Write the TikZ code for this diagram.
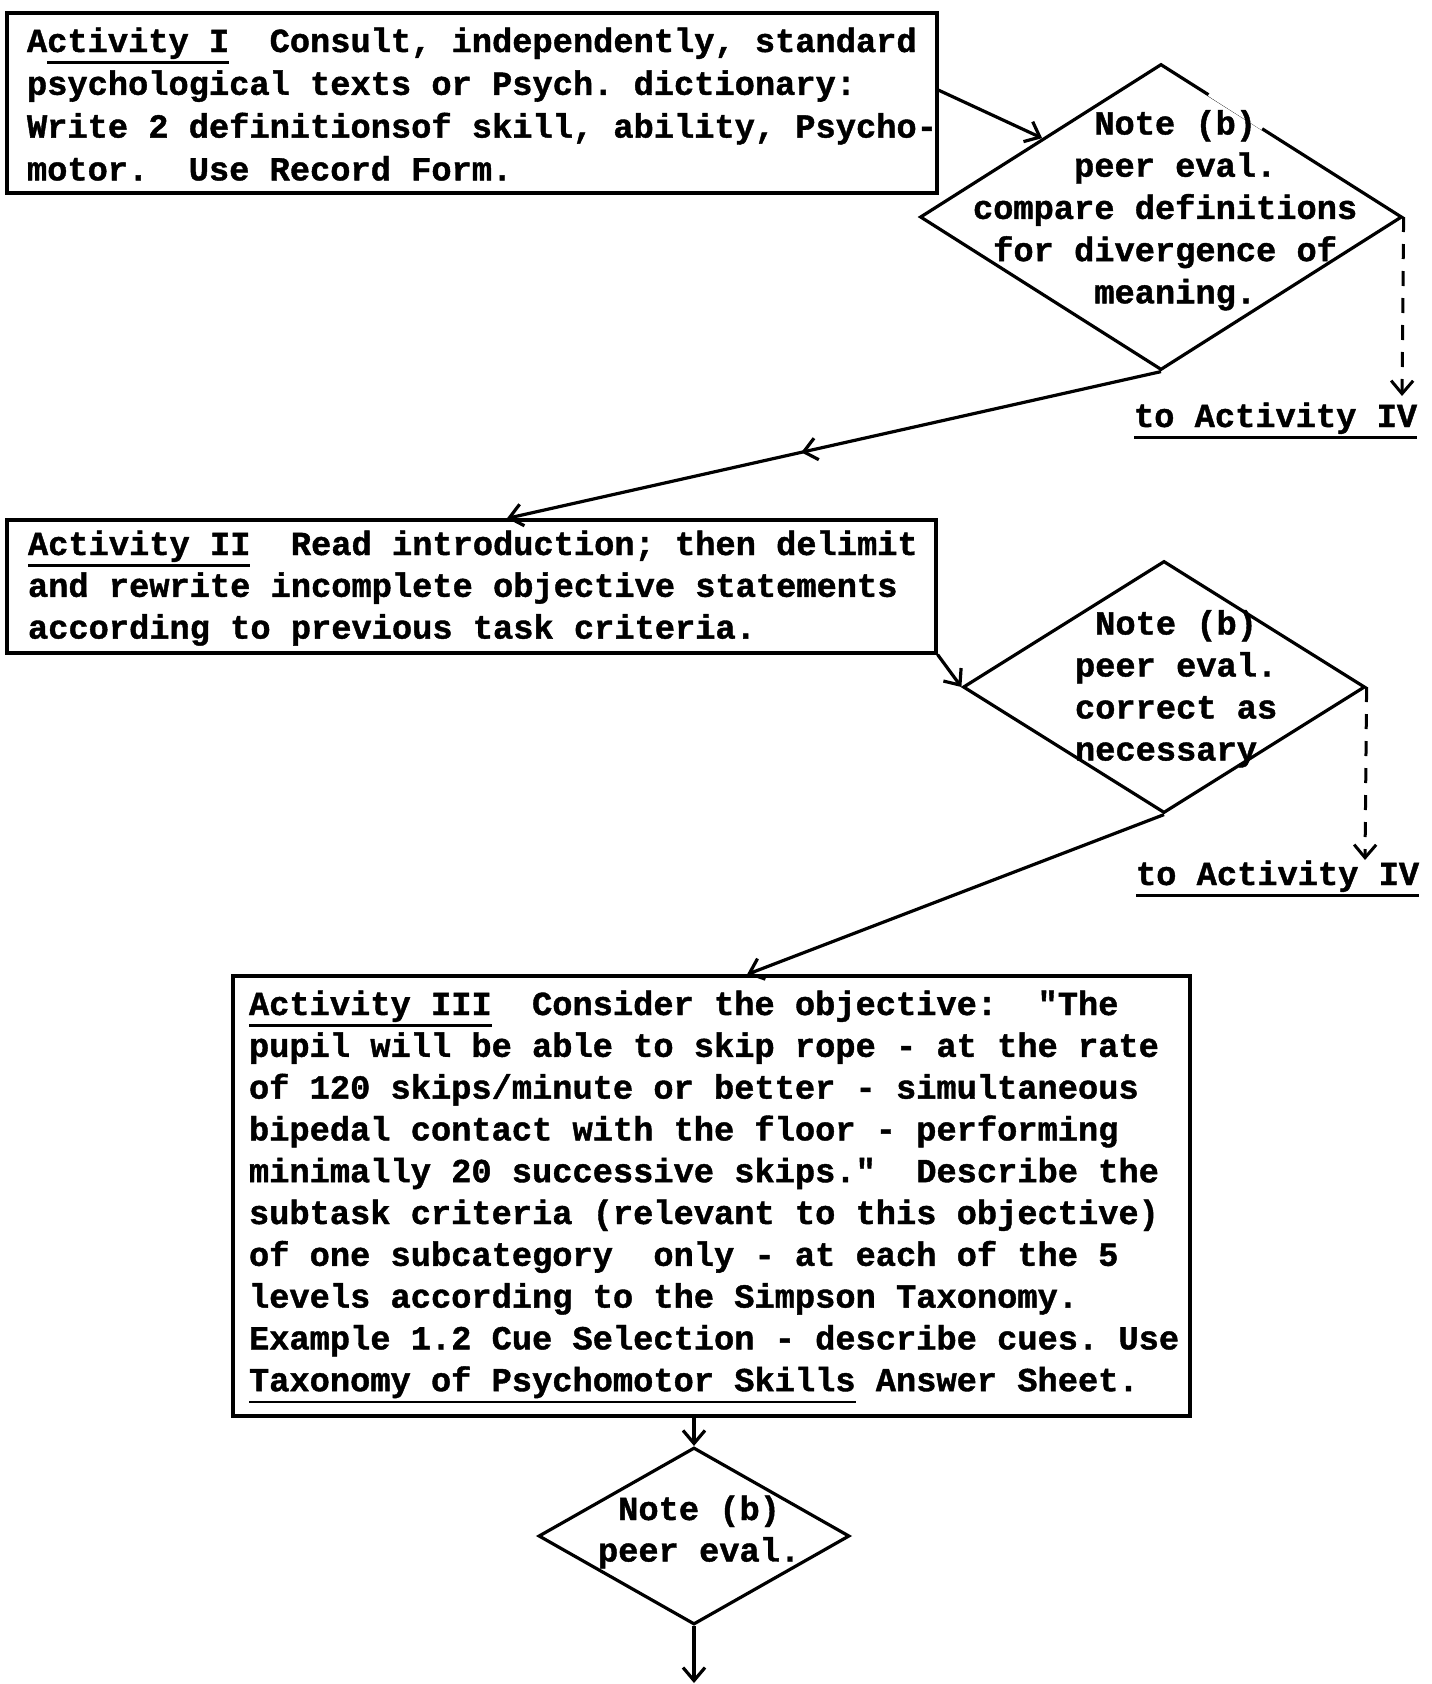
\documentclass[tikz,border=0pt]{standalone}
\usepackage{fontspec}
\setmainfont{Liberation Mono}[Ligatures=ResetAll, BoldFeatures={FakeBold=1.2}]
\usetikzlibrary{arrows.meta,decorations.markings,shapes.geometric,calc}
\newdimen\cw \cw=20.22pt
\newcommand\ind[1]{\hspace*{#1\cw}}
\newcommand\uln[1]{\setbox0=\hbox{#1}\rlap{\rule[-12pt]{\wd0}{2.6pt}}\box0\relax}
\newcommand\qq{\XeTeXglyph\XeTeXcharglyph"22\relax}
\newcommand\stt{\rule{0pt}{30pt}}
\tikzset{
  lw/.style={line width=3.2pt},
  box/.style={draw, lw, rectangle, inner sep=0pt},
  dia/.style={draw, lw, diamond, inner sep=0pt},
  txt/.style={anchor=north west, inner sep=0pt, outer sep=0pt, align=left,
    font=\fontsize{33.7pt}{#1}\selectfont\bfseries\frenchspacing},
  lbl/.style={anchor=base west, inner sep=0pt, outer sep=0pt,
    font=\fontsize{33.7pt}{40pt}\selectfont\bfseries\frenchspacing},
  arrtip/.style={-{Straight Barb[length=13pt,width=22pt]}},
  conn/.style={lw, arrtip},
  dconn/.style={line width=3pt, dash pattern=on 15pt off 12pt, arrtip},
  midarr/.style={postaction={decorate}, decoration={markings,
    mark=at position #1 with {\arrow{Straight Barb[length=13pt,width=22pt]}}}}
}
\begin{document}
\begin{tikzpicture}[x=1pt,y=-1pt]
\fill[white] (0,0) rectangle (1432,1684);
\useasboundingbox (0,0) rectangle (1432,1684);

% Activity I
\node[box, minimum width=930pt, minimum height=180pt] (b1) at (472,103) {};
\node[txt=42.8pt] (b1t) at (27,22) {\stt A\uln{ctivity I}~~Consult, independently, standard\\psychological texts or Psych. dictionary:\\Write 2 definitionsof skill, ability, Psycho-\\motor.~~Use Record Form.};

% Diamond 1
\node[dia, minimum width=482pt, minimum height=306pt] (d1) at (1161,217) {};
\draw[white, line width=6pt] ($(d1.north)!0.2!(d1.east)$) -- ($(d1.north)!0.42!(d1.east)$);
\node[txt=42.2pt] (d1t) at (973,104.5) {\stt\ind{6}Note (b)\\\ind{5}peer eval.\\compare definitions\\\ind{1}for divergence of\\\ind{6}meaning.};
\node[lbl] (t1) at (1134,427) {\uln{to Activity IV}};
\coordinate (e1) at (1402,396);

% Activity II
\node[box, minimum width=929pt, minimum height=133pt] (b2) at (471.5,586.5) {};
\node[txt=41.8pt] (b2t) at (28,525) {\stt\uln{Activity II}~~Read introduction; then delimit\\and rewrite incomplete objective statements\\according to previous task criteria.};

% Diamond 2
\node[dia, minimum width=402pt, minimum height=252pt] (d2) at (1164,687) {};
\node[txt=42pt] (d2t) at (1075,604.5) {\stt\ind{1}Note (b)\\peer eval.\\correct as\\necessary};
\node[lbl] (t2) at (1136,885) {\uln{to Activity IV}};
\coordinate (e2) at (1365,860);

% Activity III
\node[box, minimum width=957pt, minimum height=440pt] (b3) at (711.5,1196) {};
\node[txt=41.8pt] (b3t) at (249,985) {\stt\uln{Activity III}~~Consider the objective:~~\qq The\\
pupil will be able to skip rope - at the rate\\
of 120 skips/minute or better - simultaneous\\
bipedal contact with the floor - performing\\
minimally 20 successive skips.\qq~~Describe the\\
subtask criteria (relevant to this objective)\\
of one subcategory~~only - at each of the 5\\
levels according to the Simpson Taxonomy.\\
Example 1.2 Cue Selection - describe cues. Use\\
\uln{Taxonomy of Psychomotor Skills} Answer Sheet.};

% Diamond 3
\node[dia, minimum width=311pt, minimum height=177pt] (d3) at (694,1536) {};
\node[txt=41.5pt] (d3t) at (598,1490) {\stt\ind{1}Note (b)\\peer eval.};
\coordinate (e3) at (694,1683);

% connectors
\draw[conn] ($(b1.north east)!0.43!(b1.south east)$) -- ($(d1.west)!0.51!(d1.north)$);
\draw[lw, midarr=0.55, arrtip] (d1.south) -- ($(b2.north west)!0.538!(b2.north east)$);
\draw[dconn] (d1.east) -- (e1);
\draw[conn] (b2.south east) -- (d2.west);
\draw[dconn] (d2.east) -- (e2);
\draw[conn] (d2.south) -- ($(b3.north west)!0.537!(b3.north east)$);
\draw[conn] (d3.north |- b3.south) -- (d3.north);
\draw[conn] (d3.south) -- (e3);
\end{tikzpicture}
\end{document}
